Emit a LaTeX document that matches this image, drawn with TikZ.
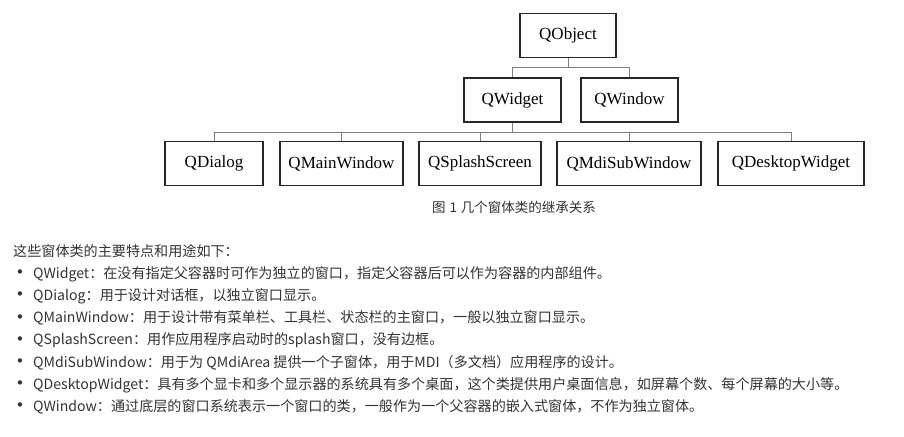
\documentclass[tikz,border=0pt]{standalone}
\usepackage{fontspec}
\setmainfont{Liberation Serif}
\newfontfamily\cjk{Noto Sans CJK SC}
\newfontfamily\symb{DejaVu Sans}
\definecolor{txtgray}{HTML}{333333}
\definecolor{linkgray}{HTML}{7F7F7F}
\tikzset{
  classbox/.style={draw=black!85, line width=1.3pt, minimum height=44pt, inner sep=0pt,
    font=\fontsize{17}{20}\selectfont},
  link/.style={draw=linkgray, line width=0.9pt},
  bodytext/.style={anchor=base west, inner sep=0pt, text=txtgray,
    font=\cjk\fontsize{14.1}{17}\selectfont},
  bullet/.style={anchor=base, inner sep=0pt, text=txtgray, font=\symb\fontsize{15}{17}\selectfont},
}
\begin{document}
\begin{tikzpicture}[x=1pt,y=-1pt]
    \useasboundingbox (0,0) rectangle (904,436);

    % Class boxes
    \node[classbox, minimum width=96pt] (obj) at (568,35.5) {QObject};
    \node[classbox, minimum width=97pt] (wid) at (512.5,100) {QWidget};
    \node[classbox, minimum width=97pt] (win) at (629.5,100) {QWindow};
    \foreach \name/\x/\w/\label in {dlg/214/98/QDialog, main/341.5/123/QMainWindow,
        splash/480/122/QSplashScreen, mdi/629/144/QMdiSubWindow, desk/791/146/QDesktopWidget} {
        \node[classbox, minimum width=\w pt] (\name) at (\x,163.5) {\label};
    }

    % Inheritance lines
    \draw[link] (obj.south) -- ++(0,9.5) -| (wid.north);
    \draw[link] (obj.south) -- ++(0,9.5) -| (win.north);
    \foreach \name in {dlg, main, splash, mdi, desk} {
        \draw[link] (wid.south) -- ++(0,9.5) -| (\name.north);
    }

    % Caption
    \node[text=txtgray, font=\cjk\fontsize{13.5}{15}\selectfont] (caption) at (514,207)
        {图\hspace{4pt}1\hspace{4pt}几个窗体类的继承关系};

    % Description list
    \node[bodytext] (intro) at (13,256) {这些窗体类的主要特点和用途如下：};
    \foreach \i/\line in {
        1/{QWidget：在没有指定父容器时可作为独立的窗口，指定父容器后可以作为容器的内部组件。},
        2/{QDialog：用于设计对话框，以独立窗口显示。},
        3/{QMainWindow：用于设计带有菜单栏、工具栏、状态栏的主窗口，一般以独立窗口显示。},
        4/{QSplashScreen：用作应用程序启动时的splash窗口，没有边框。},
        5/{QMdiSubWindow：用于为 QMdiArea 提供一个子窗体，用于MDI（多文档）应用程序的设计。},
        6/{QDesktopWidget：具有多个显卡和多个显示器的系统具有多个桌面，这个类提供用户桌面信息，如屏幕个数、每个屏幕的大小等。},
        7/{QWindow：通过底层的窗口系统表示一个窗口的类，一般作为一个父容器的嵌入式窗体，不作为独立窗体。}} {
        \node[bullet] (dot\i) at (20,{255.5+22.2*\i}) {•};
        \node[bodytext] (item\i) at (33,{256+22.2*\i}) {\line};
    }
\end{tikzpicture}
\end{document}
